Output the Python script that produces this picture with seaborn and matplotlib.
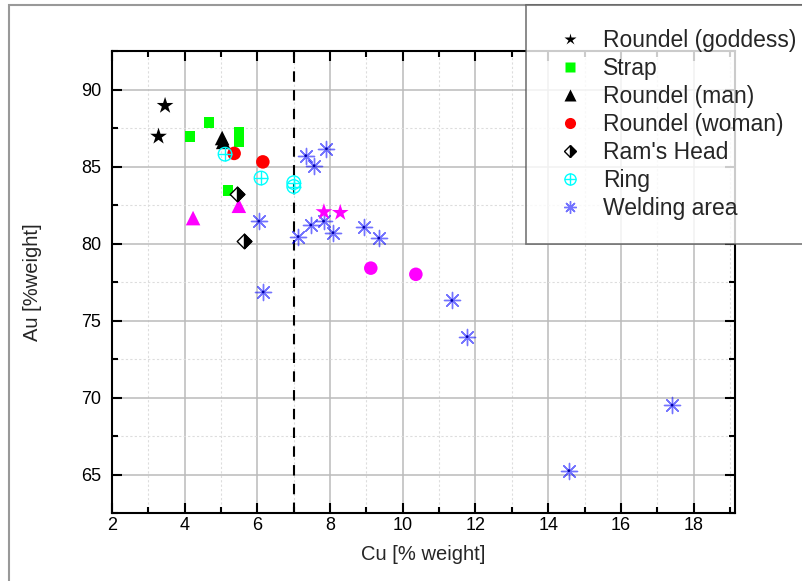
import numpy as np
import pandas as pd
import seaborn as sns
import matplotlib.pyplot as plt
from matplotlib.lines import Line2D
from matplotlib.markers import MarkerStyle
from matplotlib.patches import Rectangle

# Cu / Au composition (% weight)
goddess_cu = [3.46, 3.28]
goddess_au = [88.95, 86.95]

strap_cu = [4.15, 4.67, 5.49, 5.49, 5.49, 5.19]
strap_au = [86.95, 87.85, 87.2, 86.9, 86.6, 83.45]

man_cu = [5.03, 5.06]
man_au = [86.85, 86.6]

woman_cu = [5.36, 6.15]
woman_au = [85.85, 85.3]

ram_cu = [5.45, 5.63]
ram_au = [83.2, 80.15]

ring_cu = [5.11, 6.10, 7.0, 7.0]
ring_au = [85.8, 84.25, 83.95, 83.7]

weld_cu = [7.33, 7.90, 7.56, 6.04, 7.12, 7.47, 7.82, 8.08, 8.93, 9.34,
           6.16, 11.35, 11.77, 17.41, 14.57]
weld_au = [85.7, 86.15, 85.05, 81.45, 80.45, 81.2, 81.45, 80.7, 81.05, 80.35,
           76.85, 76.3, 73.95, 69.5, 65.25]

# magenta points (not in the legend)
pink_tri_cu = [4.23, 5.49]
pink_tri_au = [81.65, 82.45]
pink_star_cu = [7.83, 8.28]
pink_star_au = [82.05, 82.0]
pink_dot_cu = [9.12, 10.36]
pink_dot_au = [78.4, 78.0]

cu_threshold = 7

sns.set_theme(style="ticks")
plt.rcParams['font.family'] = ['Liberation Sans', 'DejaVu Sans']

fig = plt.figure(figsize=(8.03, 5.81), dpi=100)
ax = fig.add_axes([112/803, 1 - 513/581, (735-112)/803, (513-51)/581])

blue = (0, 0, 1, 0.55)
magenta = '#FF00FF'

sns.scatterplot(x=weld_cu, y=weld_au, ax=ax, marker=(8, 2, 0), s=135,
                color=blue, linewidth=1.0, legend=False, zorder=3)
sns.scatterplot(x=weld_cu, y=weld_au, ax=ax, marker='o', s=4,
                color='#0000aa', edgecolor='none', legend=False, zorder=3)
sns.scatterplot(x=goddess_cu, y=goddess_au, ax=ax, marker='*', s=160,
                color='black', edgecolor='none', legend=False, zorder=4)
sns.scatterplot(x=pink_star_cu, y=pink_star_au, ax=ax, marker='*', s=160,
                color=magenta, edgecolor='none', legend=False, zorder=4)
sns.scatterplot(x=strap_cu, y=strap_au, ax=ax, marker='s', s=55,
                color='#00FF00', edgecolor='none', legend=False, zorder=4)
sns.scatterplot(x=man_cu, y=man_au, ax=ax, marker='^', s=110,
                color='black', edgecolor='none', legend=False, zorder=4)
sns.scatterplot(x=pink_tri_cu, y=pink_tri_au, ax=ax, marker='^', s=110,
                color=magenta, edgecolor='none', legend=False, zorder=4)
sns.scatterplot(x=woman_cu, y=woman_au, ax=ax, marker='o', s=95,
                color='red', edgecolor='none', legend=False, zorder=4)
sns.scatterplot(x=pink_dot_cu, y=pink_dot_au, ax=ax, marker='o', s=95,
                color=magenta, edgecolor='none', legend=False, zorder=4)
sns.scatterplot(x=ram_cu, y=ram_au, ax=ax, marker='D', s=55,
                facecolor='white', edgecolor='black', linewidth=1, legend=False, zorder=4)
sns.scatterplot(x=ram_cu, y=ram_au, ax=ax, marker=MarkerStyle('D', fillstyle='right'), s=55,
                color='black', edgecolor='black', linewidth=1, legend=False, zorder=5)
sns.scatterplot(x=ring_cu, y=ring_au, ax=ax, marker='o', s=95,
                facecolor='none', edgecolor='#00FFFF', linewidth=1, legend=False, zorder=4)
sns.scatterplot(x=ring_cu, y=ring_au, ax=ax, marker='+', s=95,
                color='#00FFFF', linewidth=1, legend=False, zorder=4)

ax.axvline(cu_threshold, color='black', lw=1.5, ls=(0, (5, 4)), zorder=2)

ax.set_xlim(2, 19.14)
ax.set_ylim(62.5, 92.5)
ax.set_xticks(np.arange(2, 19, 2))
ax.set_xticks(np.arange(3, 20, 1), minor=True)
ax.set_yticks(np.arange(65, 91, 5))
ax.set_yticks(np.arange(62.5, 92.6, 2.5), minor=True)

ax.grid(True, which='major', color='#bbbbbb', lw=1.1)
ax.grid(True, which='minor', color='#dddddd', lw=0.8, ls=(0, (2, 2)))
ax.set_axisbelow(True)

ax.tick_params(which='both', direction='in', top=True, right=True, width=1.5, colors='black')
ax.tick_params(which='major', length=7, labelsize=13)
ax.tick_params(axis='y', which='major', pad=8)
ax.tick_params(axis='x', which='major', pad=3)
ax.tick_params(which='minor', length=4)
for sp in ax.spines.values():
    sp.set_linewidth(1.5)
    sp.set_color('black')

ax.set_xlabel('Cu [% weight]', fontsize=14.5, labelpad=8)
ax.set_ylabel('Au [%weight]', fontsize=14.5, labelpad=28)

# outer frame of the original figure
fig.patches.append(Rectangle((9/803, -0.1), 1.2, 1.1 - 5/581, transform=fig.transFigure,
                             fill=False, edgecolor='#999999', lw=1.5, zorder=0))

handles = [
    Line2D([], [], ls='none', marker='*', ms=9, color='black', mec='none'),
    Line2D([], [], ls='none', marker='s', ms=6.5, color='#00FF00', mec='none'),
    Line2D([], [], ls='none', marker='^', ms=8, color='black', mec='none'),
    Line2D([], [], ls='none', marker='o', ms=8, color='red', mec='none'),
    Line2D([], [], ls='none', marker='D', ms=6, mfc='black', mfcalt='white', fillstyle='right',
           mec='black', mew=1),
    (Line2D([], [], ls='none', marker='o', ms=8, mfc='none', mec='#00FFFF', mew=1),
     Line2D([], [], ls='none', marker='+', ms=8, mec='#00FFFF', mew=1)),
    Line2D([], [], ls='none', marker=(8, 2, 0), ms=9, mec=blue, mew=1),
]
labels = ['Roundel (goddess)', 'Strap', 'Roundel (man)', 'Roundel (woman)',
          "Ram's Head", 'Ring', 'Welding area']

leg = fig.legend(handles, labels, loc='upper left', bbox_to_anchor=(526/803, 1 - 5/581),
                 bbox_transform=fig.transFigure, fontsize=16.5, frameon=True, fancybox=False,
                 borderaxespad=0, borderpad=1.05, labelspacing=0.22, handlelength=1.7,
                 handletextpad=0.6)
leg.get_frame().set_edgecolor('#555555')
leg.get_frame().set_linewidth(1.2)

fig.savefig('out.png', dpi=100)
